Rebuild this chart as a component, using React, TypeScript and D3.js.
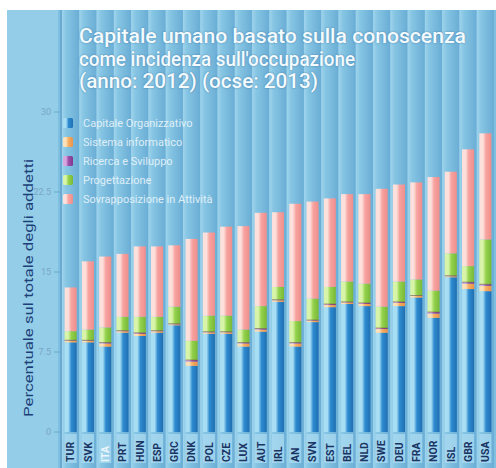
import React from "react";
import * as d3 from "d3";

const countries = ["TUR","SVK","ITA","PRT","HUN","ESP","GRC","DNK","POL","CZE","LUX","AUT","IRL","AN","SVN","EST","BEL","NLD","SWE","DEU","FRA","NOR","ISL","GBR","USA"];
const capitaleOrganizzativo = [8.4,8.4,8.0,9.3,9.0,9.3,10.0,6.2,9.2,9.2,8.0,9.4,12.2,8.0,10.3,11.7,12.0,11.8,9.3,11.8,12.6,10.7,14.5,13.4,13.2];
const sistemaInformatico = [0.15,0.15,0.3,0.15,0.2,0.15,0.1,0.4,0.15,0.15,0.3,0.2,0.15,0.3,0.15,0.2,0.15,0.2,0.35,0.3,0.15,0.4,0.1,0.5,0.5];
const ricercaSviluppo = [0.05,0.05,0.1,0.05,0.1,0.05,0.05,0.15,0.05,0.05,0.1,0.1,0.05,0.1,0.05,0.1,0.05,0.1,0.1,0.1,0.05,0.15,0.05,0.15,0.15];
const progettazione = [0.85,1.0,1.4,1.3,1.5,1.3,1.6,1.8,1.5,1.5,1.2,2.1,1.2,2.0,2.0,1.6,1.9,1.8,2.0,1.9,1.5,2.0,2.1,1.5,4.2];
const sovrapposizione = [4.1,6.4,6.65,5.9,6.6,6.6,5.75,9.55,7.8,8.35,9.7,8.75,7.0,11.0,9.1,8.3,8.2,8.4,11.05,9.1,9.1,10.65,7.65,10.95,9.95];
const seriesNames = ["Capitale Organizzativo","Sistema informatico","Ricerca e Sviluppo","Progettazione","Sovrapposizione in Attività"];
const yTicks = [0, 7.5, 15, 22.5, 30];
const yTickLabels = ["0", "7.5", "15", "22.5", "30"];
const titleLines = ["Capitale umano basato sulla conoscenza","come incidenza sull'occupazione","(anno: 2012) (ocse: 2013)"];
const yTitle = "Percentuale sul totale degli addetti";

const keys = ["k0","k1","k2","k3","k4"];
const palette = [
  { light: "#a8def4", main: "#2f8bd0", dark: "#1f6fb2" },
  { light: "#fde0b8", main: "#f6ad62", dark: "#e8924a" },
  { light: "#d7a6de", main: "#9c4fa8", dark: "#7e3a8c" },
  { light: "#d8f4a8", main: "#94d24c", dark: "#78b838" },
  { light: "#fde0dc", main: "#f7a3a0", dark: "#ee8e8c" },
];

export default function App() {
  const W = 496, H = 468;
  const x = d3.scaleBand<string>().domain(countries).range([62, 494]).paddingInner(0.3).paddingOuter(0.15);
  const y = d3.scaleLinear().domain([0, 30]).range([432, 112]);
  const rows = countries.map((c, i) => ({
    c,
    k0: capitaleOrganizzativo[i],
    k1: sistemaInformatico[i],
    k2: ricercaSviluppo[i],
    k3: progettazione[i],
    k4: sovrapposizione[i],
  }));
  const stack = d3.stack<any>().keys(keys)(rows);
  const bw = x.bandwidth();
  const step = x.step();

  return (
    <svg width={W} height={H} style={{ position: "absolute", left: 0, top: 0 }}>
      <defs>
        {palette.map((p, i) => (
          <linearGradient key={i} id={`g${i}`} x1="0" x2="1" y1="0" y2="0">
            <stop offset="0" stopColor={p.light} />
            <stop offset="0.3" stopColor={p.light} />
            <stop offset="0.55" stopColor={p.main} />
            <stop offset="1" stopColor={p.dark} />
          </linearGradient>
        ))}
        <linearGradient id="col" x1="0" x2="1" y1="0" y2="0">
          <stop offset="0" stopColor="#9fd4ec" />
          <stop offset="0.25" stopColor="#86c5e3" />
          <stop offset="1" stopColor="#6aadd5" />
        </linearGradient>
      </defs>
      <rect x={0} y={0} width={W} height={H} fill="#ffffff" />
      <rect x={7} y={10} width={489} height={458} fill="#93cde8" />
      <rect x={58} y={10} width={438} height={458} fill="#7fbfe0" />
      {countries.map((c) => (
        <rect key={"bg" + c} x={(x(c) as number) - (step - bw) / 2} y={10} width={step} height={458} fill="url(#col)" />
      ))}
      <line x1={61} x2={61} y1={10} y2={468} stroke="#5e9ec8" strokeWidth={1.2} />
      {titleLines.map((t, i) => (
        <text key={"t" + i} x={79} y={43 + i * 22.5} fill="#f4fbff" fontFamily="Roboto, Liberation Sans, sans-serif" fontSize={21}
          fontWeight={500} textLength={[387, 276, 239][i]} lengthAdjust="spacingAndGlyphs"
          style={{ textShadow: "0 0 2px rgba(40,90,140,0.6)" }}>{t}</text>
      ))}
      {yTicks.map((v, i) => (
        <g key={"yt" + i}>
          <line x1={54} x2={61} y1={y(v)} y2={y(v)} stroke="#6fa8cc" strokeWidth={1} />
          <text x={51} y={y(v)} dy="0.35em" textAnchor="end" fontSize={9} fill="#7aa6c6" fontFamily="Roboto, sans-serif">{yTickLabels[i]}</text>
        </g>
      ))}
      <text transform={`translate(28,${288}) rotate(-90)`} textAnchor="middle" dy="0.35em" fontSize={13}
        fill="#1d3f78" fontFamily="Roboto, Liberation Sans, sans-serif" textLength={258} lengthAdjust="spacingAndGlyphs">{yTitle}</text>
      {stack.map((s, si) => (
        <g key={"s" + si}>
          {s.map((d: any, i: number) => (
            <rect key={i} x={x(countries[i])} y={y(d[1])} width={bw} height={Math.max(0, y(d[0]) - y(d[1]))} fill={`url(#g${si})`} />
          ))}
        </g>
      ))}
      {countries.map((c, i) => (
        <line key={"sep" + c} x1={x(c)} x2={(x(c) as number) + bw}
          y1={y(capitaleOrganizzativo[i] + sistemaInformatico[i] + ricercaSviluppo[i])}
          y2={y(capitaleOrganizzativo[i] + sistemaInformatico[i] + ricercaSviluppo[i])}
          stroke="#7a5a3a" strokeWidth={0.8} opacity={0.7} />
      ))}
      {countries.map((c) => (
        <rect key={"lb" + c} x={x(c)} y={434} width={bw} height={29} fill="#a9daf0" opacity={0.8} />
      ))}
      {countries.map((c, i) => (
        <text key={"xl" + c} transform={`translate(${(x(c) as number) + bw / 2},462) rotate(-90)`} dy="0.36em"
          fontSize={10.5} fontWeight="bold" fill={c === "ITA" ? "#eaf6fc" : "#1a3564"}
          fontFamily="Roboto, Liberation Sans, sans-serif">{c}</text>
      ))}
      {seriesNames.map((n, i) => (
        <g key={"lg" + i} transform={`translate(63,${118 + i * 19})`}>
          <rect x={0} y={0} width={10} height={10} rx={1.5} fill={`url(#g${i})`} />
          <text x={20} y={5} dy="0.35em" fontSize={11} fill="#eef8fd" opacity={0.85}
            fontFamily="Roboto, Liberation Sans, sans-serif">{n}</text>
        </g>
      ))}
    </svg>
  );
}
